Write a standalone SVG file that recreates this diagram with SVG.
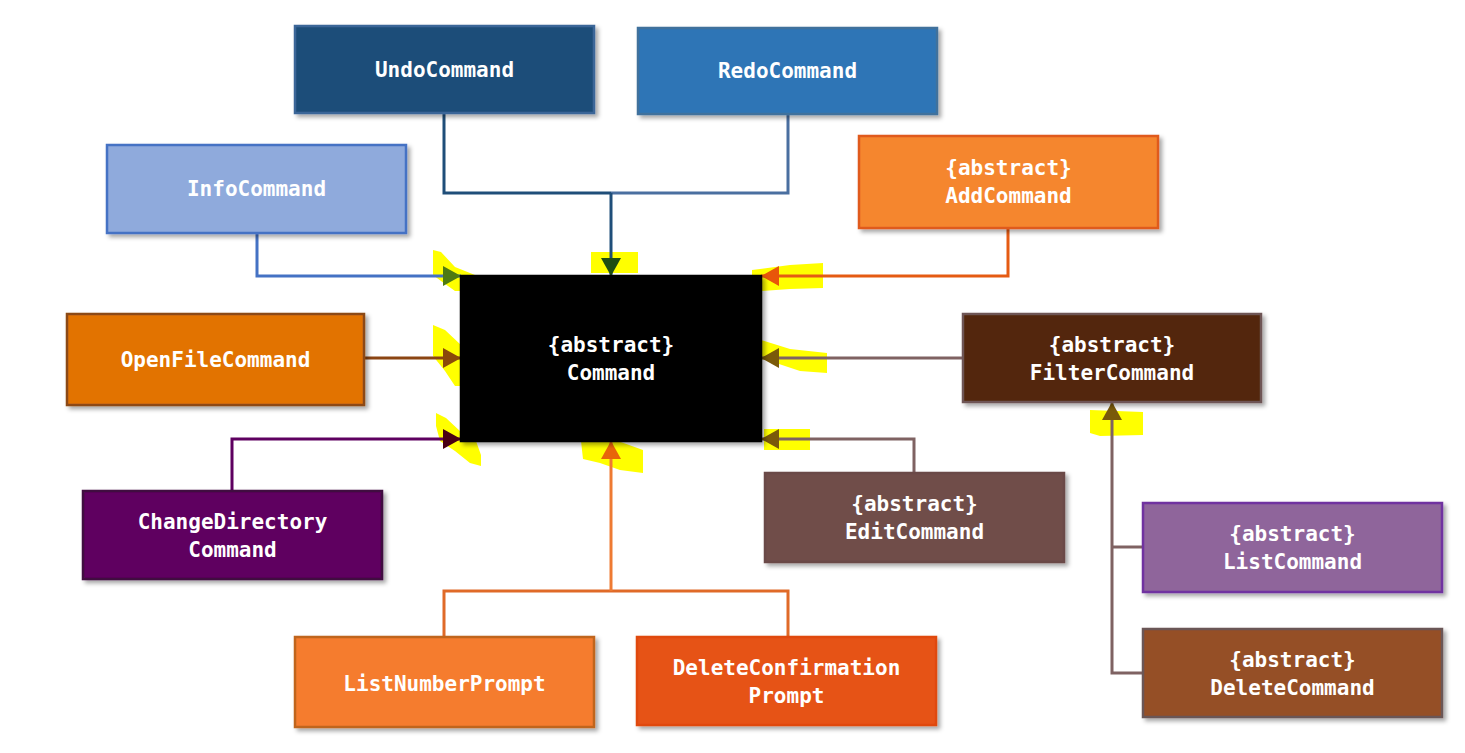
<svg xmlns="http://www.w3.org/2000/svg" width="1465" height="753" viewBox="0 0 1465 753">
<defs>
<filter id="sh" x="-10%" y="-10%" width="130%" height="130%">
<feDropShadow dx="3" dy="3" stdDeviation="2" flood-color="#000" flood-opacity="0.35"/>
</filter>
<marker id="mGreenD" viewBox="0 0 18 20" refX="18" refY="10" markerWidth="18" markerHeight="20" markerUnits="userSpaceOnUse" orient="auto"><path d="M0,0 L18,10 L0,20 Z" fill="#1E4D12"/></marker>
<marker id="mGreen" viewBox="0 0 18 20" refX="18" refY="10" markerWidth="18" markerHeight="20" markerUnits="userSpaceOnUse" orient="auto"><path d="M0,0 L18,10 L0,20 Z" fill="#4E7A12"/></marker>
<marker id="mBrown" viewBox="0 0 18 20" refX="18" refY="10" markerWidth="18" markerHeight="20" markerUnits="userSpaceOnUse" orient="auto"><path d="M0,0 L18,10 L0,20 Z" fill="#8B4A0A"/></marker>
<marker id="mPlum" viewBox="0 0 18 20" refX="18" refY="10" markerWidth="18" markerHeight="20" markerUnits="userSpaceOnUse" orient="auto"><path d="M0,0 L18,10 L0,20 Z" fill="#4A0014"/></marker>
<marker id="mOrange" viewBox="0 0 18 20" refX="18" refY="10" markerWidth="18" markerHeight="20" markerUnits="userSpaceOnUse" orient="auto"><path d="M0,0 L18,10 L0,20 Z" fill="#E8650A"/></marker>
<marker id="mRed" viewBox="0 0 18 20" refX="18" refY="10" markerWidth="18" markerHeight="20" markerUnits="userSpaceOnUse" orient="auto"><path d="M0,0 L18,10 L0,20 Z" fill="#E8560A"/></marker>
<marker id="mOlive" viewBox="0 0 18 20" refX="18" refY="10" markerWidth="18" markerHeight="20" markerUnits="userSpaceOnUse" orient="auto"><path d="M0,0 L18,10 L0,20 Z" fill="#7A5A0A"/></marker>
</defs>
<style>
text{font-family:"DejaVu Sans Mono","Liberation Mono",monospace;font-weight:bold;font-size:21px;fill:#fff;text-anchor:middle;dominant-baseline:central}
.box{stroke-width:2.5;filter:url(#sh)}
.ln{fill:none;stroke-width:3}
.hl{fill:#FFFF00;stroke:none}
</style>
<rect width="1465" height="753" fill="#fff"/>

<g id="highlights">
<polygon class="hl" points="433,250 441,252 455,267 475,275 462,291 455,291 441,281 433,275"/>
<polygon class="hl" points="591,252 638,252 638,273 591,273"/>
<polygon class="hl" points="433,325 445,330 461,345 461,386 455,386 445,371 433,356"/>
<polygon class="hl" points="436,413 446,418 461,432 476,441 481,455 481,466 470,463 455,451 440,441 436,426"/>
<polygon class="hl" points="581,441 618,441 643,450 643,473 620,470 600,463 583,459"/>
<polygon class="hl" points="752,270 790,265 823,263 823,288 790,289 762,291 752,286"/>
<polygon class="hl" points="761,340 790,349 827,353 827,373 800,371 770,361 761,359"/>
<polygon class="hl" points="764,429 810,429 810,450 764,450"/>
<polygon class="hl" points="1090,410 1143,412 1143,435 1100,436 1090,433"/>
</g>

<g id="connectors">
<polyline class="ln" stroke="#1F4E79" points="444,113 444,193 611,193"/>
<polyline class="ln" stroke="#4A6FA0" points="788,114 788,193 611,193"/>
<line class="ln" stroke="#1F4E79" x1="611" y1="193" x2="611" y2="276" marker-end="url(#mGreenD)"/>
<polyline class="ln" stroke="#4472C4" points="257,233 257,276 461,276" marker-end="url(#mGreen)"/>
<line class="ln" stroke="#8B4513" x1="364" y1="358" x2="461" y2="358" marker-end="url(#mBrown)"/>
<polyline class="ln" stroke="#5E0060" points="232,491 232,439 461,439" marker-end="url(#mPlum)"/>
<polyline class="ln" stroke="#E06A28" points="444,637 444,591 788,591 788,637"/>
<line class="ln" stroke="#EE7A32" x1="611" y1="591" x2="611" y2="441" marker-end="url(#mOrange)"/>
<polyline class="ln" stroke="#E55B13" points="1008,228 1008,276 761,276" marker-end="url(#mRed)"/>
<line class="ln" stroke="#7F6262" x1="963" y1="358" x2="761" y2="358" marker-end="url(#mOlive)"/>
<polyline class="ln" stroke="#7F6262" points="914,473 914,439 761,439" marker-end="url(#mOlive)"/>
<polyline class="ln" stroke="#7F6262" points="1143,673 1112,673 1112,402" marker-end="url(#mOlive)"/>
<line class="ln" stroke="#7F6262" x1="1112" y1="547" x2="1143" y2="547"/>
</g>

<g id="UndoCommand"><rect class="box" x="295" y="26" width="299" height="87" fill="#1F4E79" stroke="#3A6698"/><text x="444.5" y="70">UndoCommand</text></g>
<g id="RedoCommand"><rect class="box" x="638" y="28" width="299" height="86" fill="#2E75B6" stroke="#41719C"/><text x="787.5" y="71">RedoCommand</text></g>
<g id="InfoCommand"><rect class="box" x="107" y="145" width="299" height="88" fill="#8FAADC" stroke="#4472C4"/><text x="256.5" y="189">InfoCommand</text></g>
<g id="AddCommand"><rect class="box" x="859" y="136" width="299" height="92" fill="#F5862F" stroke="#E05A1A"/><text x="1008.5" y="168">{abstract}</text><text x="1008.5" y="196">AddCommand</text></g>
<g id="Command"><rect class="box" x="461" y="276" width="300" height="165" fill="#000" stroke="#000"/><text x="611" y="345">{abstract}</text><text x="611" y="373">Command</text></g>
<g id="OpenFileCommand"><rect class="box" x="67" y="314" width="297" height="91" fill="#E27304" stroke="#8C4A14"/><text x="215.5" y="360">OpenFileCommand</text></g>
<g id="FilterCommand"><rect class="box" x="963" y="314" width="298" height="88" fill="#53280D" stroke="#6E5454"/><text x="1112" y="345">{abstract}</text><text x="1112" y="373">FilterCommand</text></g>
<g id="ChangeDirectoryCommand"><rect class="box" x="83" y="491" width="299" height="88" fill="#5F0060" stroke="#40103F"/><text x="232.5" y="522">ChangeDirectory</text><text x="232.5" y="550">Command</text></g>
<g id="EditCommand"><rect class="box" x="765" y="473" width="299" height="89" fill="#704E4A" stroke="#6A4A46"/><text x="914.5" y="504">{abstract}</text><text x="914.5" y="532">EditCommand</text></g>
<g id="ListCommand"><rect class="box" x="1143" y="503" width="299" height="89" fill="#8F659B" stroke="#7030A0"/><text x="1292.5" y="534">{abstract}</text><text x="1292.5" y="562">ListCommand</text></g>
<g id="DeleteCommand"><rect class="box" x="1143" y="629" width="299" height="88" fill="#954F28" stroke="#6B5656"/><text x="1292.5" y="660">{abstract}</text><text x="1292.5" y="688">DeleteCommand</text></g>
<g id="ListNumberPrompt"><rect class="box" x="295" y="637" width="299" height="90" fill="#F57B2F" stroke="#C0651F"/><text x="444.5" y="684">ListNumberPrompt</text></g>
<g id="DeleteConfirmationPrompt"><rect class="box" x="637" y="637" width="299" height="88" fill="#E65214" stroke="#E04810"/><text x="786.5" y="668">DeleteConfirmation</text><text x="786.5" y="696">Prompt</text></g>
</svg>
